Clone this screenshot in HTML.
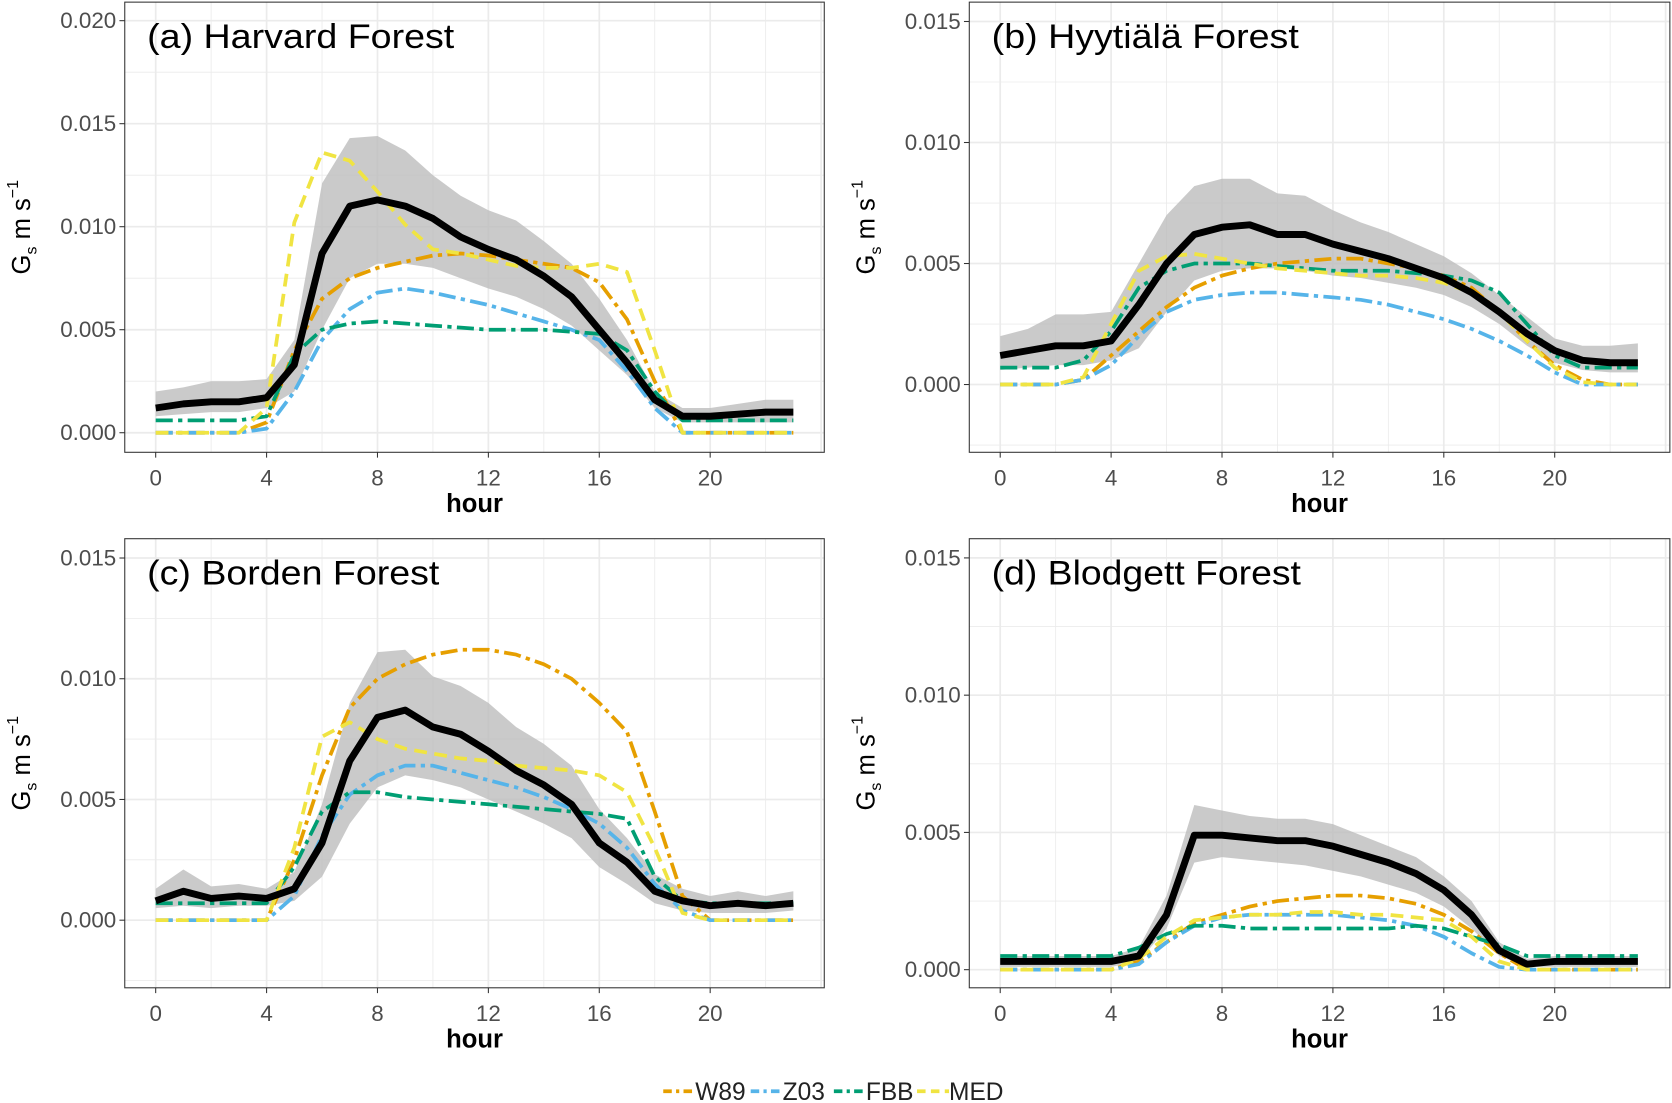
<!DOCTYPE html>
<html><head><meta charset="utf-8"><style>
html,body{margin:0;padding:0;background:#fff}
svg{display:block;font-family:"Liberation Sans",sans-serif}
</style></head><body>
<svg id="fig" width="1672" height="1103" viewBox="0 0 1568 1034" preserveAspectRatio="none" xmlns="http://www.w3.org/2000/svg"></svg>
<script>
const hours=[0,1,2,3,4,5,6,7,8,9,10,11,12,13,14,15,16,17,18,19,20,21,22,23];
const xTicks=[0,4,8,12,16,20];
const seriesNames=["W89","Z03","FBB","MED"];
const seriesColors=["#E69F00","#56B4E9","#009E73","#F0E442"];
const titles=["(a) Harvard Forest","(b) Hyytiälä Forest","(c) Borden Forest","(d) Blodgett Forest"];
const yTicksA=["0.000","0.005","0.010","0.015","0.020"];
const yTicksB=["0.000","0.005","0.010","0.015"];
// panel a
const obsA=[0.0012,0.0014,0.0015,0.0015,0.0017,0.0033,0.0087,0.0110,0.0113,0.0110,0.0104,0.0095,0.0089,0.0084,0.0076,0.0066,0.0050,0.0034,0.0016,0.0008,0.0008,0.0009,0.0010,0.0010];
const lowA=[0.0008,0.0009,0.0010,0.0010,0.0012,0.0020,0.0050,0.0075,0.0082,0.0082,0.0080,0.0075,0.0070,0.0066,0.0060,0.0052,0.0040,0.0028,0.0012,0.0005,0.0005,0.0005,0.0005,0.0005];
const highA=[0.0020,0.0022,0.0025,0.0025,0.0026,0.0045,0.0121,0.0143,0.0144,0.0137,0.0125,0.0115,0.0108,0.0103,0.0093,0.0082,0.0065,0.0045,0.0020,0.0012,0.0012,0.0014,0.0016,0.0016];
const w89A=[0,0,0,0,0.0005,0.0040,0.0065,0.0075,0.0080,0.0083,0.0086,0.0087,0.0086,0.0084,0.0082,0.0080,0.0073,0.0055,0.0025,0,0,0,0,0];
const z03A=[0,0,0,0,0.0002,0.0020,0.0045,0.0060,0.0068,0.0070,0.0068,0.0065,0.0062,0.0058,0.0054,0.0050,0.0045,0.0030,0.0012,0,0,0,0,0];
const fbbA=[0.0006,0.0006,0.0006,0.0006,0.0008,0.0038,0.0050,0.0053,0.0054,0.0053,0.0052,0.0051,0.0050,0.0050,0.0050,0.0049,0.0048,0.0040,0.0020,0.0006,0.0006,0.0006,0.0006,0.0006];
const medA=[0,0,0,0,0.0012,0.0102,0.0136,0.0132,0.0117,0.0101,0.0089,0.0087,0.0084,0.0081,0.0080,0.0080,0.0082,0.0078,0.0040,0,0,0,0,0];
// panel b
const obsB=[0.0012,0.0014,0.0016,0.0016,0.0018,0.0033,0.0050,0.0062,0.0065,0.0066,0.0062,0.0062,0.0058,0.0055,0.0052,0.0048,0.0044,0.0038,0.0030,0.0021,0.0014,0.0010,0.0009,0.0009];
const lowB=[0.0006,0.0007,0.0008,0.0008,0.0010,0.0015,0.0030,0.0043,0.0047,0.0048,0.0048,0.0047,0.0045,0.0044,0.0042,0.0040,0.0037,0.0032,0.0025,0.0016,0.0009,0.0006,0.0005,0.0005];
const highB=[0.0020,0.0023,0.0029,0.0029,0.0030,0.0050,0.0070,0.0082,0.0085,0.0085,0.0079,0.0078,0.0072,0.0067,0.0063,0.0058,0.0053,0.0046,0.0037,0.0028,0.0019,0.0016,0.0016,0.0017];
const w89B=[0,0,0,0.0002,0.0012,0.0022,0.0032,0.0040,0.0045,0.0048,0.0050,0.0051,0.0052,0.0052,0.0050,0.0048,0.0045,0.0040,0.0030,0.0018,0.0008,0.0002,0,0];
const z03B=[0,0,0,0.0002,0.0008,0.0020,0.0030,0.0035,0.0037,0.0038,0.0038,0.0037,0.0036,0.0035,0.0033,0.0030,0.0027,0.0023,0.0018,0.0012,0.0005,0,0,0];
const fbbB=[0.0007,0.0007,0.0007,0.0010,0.0022,0.0040,0.0047,0.0050,0.0050,0.0050,0.0049,0.0048,0.0047,0.0047,0.0047,0.0046,0.0045,0.0043,0.0038,0.0025,0.0012,0.0007,0.0007,0.0007];
const medB=[0,0,0,0.0003,0.0025,0.0047,0.0053,0.0054,0.0052,0.0050,0.0048,0.0047,0.0046,0.0045,0.0045,0.0044,0.0042,0.0038,0.0030,0.0018,0.0007,0.0001,0,0];
// panel c
const obsC=[0.0008,0.0012,0.0009,0.0010,0.0009,0.0013,0.0032,0.0066,0.0084,0.0087,0.0080,0.0077,0.0070,0.0062,0.0056,0.0048,0.0032,0.0024,0.0012,0.0008,0.0006,0.0007,0.0006,0.0007];
const lowC=[0.0005,0.0006,0.0005,0.0006,0.0006,0.0008,0.0018,0.0040,0.0055,0.0060,0.0058,0.0055,0.0050,0.0045,0.0040,0.0034,0.0022,0.0015,0.0007,0.0004,0.0003,0.0003,0.0003,0.0004];
const highC=[0.0013,0.0021,0.0014,0.0015,0.0013,0.0020,0.0048,0.0090,0.0111,0.0112,0.0101,0.0097,0.0090,0.0080,0.0073,0.0064,0.0046,0.0034,0.0019,0.0013,0.0010,0.0012,0.0010,0.0012];
const w89C=[0,0,0,0,0,0.0025,0.0060,0.0088,0.0100,0.0106,0.0110,0.0112,0.0112,0.0110,0.0106,0.0100,0.0090,0.0078,0.0045,0.0010,0,0,0,0];
const z03C=[0,0,0,0,0,0.0010,0.0035,0.0052,0.0060,0.0064,0.0064,0.0061,0.0058,0.0055,0.0051,0.0046,0.0040,0.0030,0.0015,0.0004,0,0,0,0];
const fbbC=[0.0007,0.0007,0.0007,0.0007,0.0007,0.0022,0.0045,0.0053,0.0053,0.0051,0.0050,0.0049,0.0048,0.0047,0.0046,0.0045,0.0044,0.0042,0.0018,0.0008,0.0007,0.0007,0.0007,0.0007];
const medC=[0,0,0,0,0,0.0030,0.0076,0.0082,0.0075,0.0071,0.0069,0.0067,0.0066,0.0064,0.0063,0.0062,0.0060,0.0053,0.0030,0.0003,0,0,0,0];
// panel d
const obsD=[0.0003,0.0003,0.0003,0.0003,0.0003,0.0005,0.0020,0.0049,0.0049,0.0048,0.0047,0.0047,0.0045,0.0042,0.0039,0.0035,0.0029,0.0020,0.0007,0.0002,0.0003,0.0003,0.0003,0.0003];
const lowD=[0.0001,0.0001,0.0001,0.0001,0.0001,0.0003,0.0015,0.0039,0.0041,0.0040,0.0039,0.0038,0.0036,0.0034,0.0031,0.0028,0.0023,0.0015,0.0005,0.0001,0.0001,0.0001,0.0001,0.0001];
const highD=[0.0005,0.0005,0.0005,0.0005,0.0005,0.0008,0.0027,0.0060,0.0058,0.0056,0.0055,0.0055,0.0053,0.0049,0.0045,0.0041,0.0034,0.0025,0.0010,0.0004,0.0005,0.0005,0.0005,0.0005];
const w89D=[0,0,0,0,0,0.0003,0.0010,0.0017,0.0020,0.0023,0.0025,0.0026,0.0027,0.0027,0.0026,0.0024,0.0020,0.0014,0.0006,0,0,0,0,0];
const z03D=[0,0,0,0,0,0.0002,0.0010,0.0016,0.0019,0.0020,0.0020,0.0020,0.0020,0.0019,0.0018,0.0016,0.0012,0.0006,0.0001,0,0,0,0,0];
const fbbD=[0.0005,0.0005,0.0005,0.0005,0.0005,0.0008,0.0013,0.0016,0.0016,0.0015,0.0015,0.0015,0.0015,0.0015,0.0015,0.0016,0.0015,0.0012,0.0009,0.0005,0.0005,0.0005,0.0005,0.0005];
const medD=[0,0,0,0,0,0.0004,0.0012,0.0018,0.0019,0.0020,0.0020,0.0021,0.0021,0.0020,0.0020,0.0019,0.0018,0.0012,0.0003,0,0,0,0,0];

const NS="http://www.w3.org/2000/svg";
const svg=document.getElementById('fig');
function mk(tag,attrs,parent){const e=document.createElementNS(NS,tag);for(const k in attrs)e.setAttribute(k,attrs[k]);(parent||svg).appendChild(e);return e;}

const panels=[
 {x0:117,x1:773,y0:2,y1:424,ymin:-0.00095,ymax:0.0209,ticks:yTicksA,obs:obsA,low:lowA,high:highA,mods:[w89A,z03A,fbbA,medA]},
 {x0:909,x1:1566,y0:2,y1:424,ymin:-0.0028,ymax:0.0158,ticks:yTicksB,obs:obsB,low:lowB,high:highB,mods:[w89B,z03B,fbbB,medB]},
 {x0:117,x1:773,y0:505,y1:926,ymin:-0.0028,ymax:0.0158,ticks:yTicksB,obs:obsC,low:lowC,high:highC,mods:[w89C,z03C,fbbC,medC]},
 {x0:909,x1:1566,y0:505,y1:926,ymin:-0.00066,ymax:0.0157,ticks:yTicksB,obs:obsD,low:lowD,high:highD,mods:[w89D,z03D,fbbD,medD]}
];
const dashes=["16 5 4 5","16 5 4 5","16 5 4 5","12 7"];

panels.forEach((p,i)=>{
  const g=mk('g',{});
  
  
  const xs=h=>p.x0+29+h*26;
  const ys=v=>p.y1-(v-p.ymin)/(p.ymax-p.ymin)*(p.y1-p.y0);
  for(let h=-2;h<=24;h+=2){const X=xs(h);if(X<=p.x0||X>=p.x1)continue;
    mk('line',{x1:X,x2:X,y1:p.y0,y2:p.y1,stroke:'#ebebeb','stroke-width':h%4===0?1.6:0.8},g);}
  for(let k=-1;k<=2*p.ticks.length;k++){const v=k*0.0025;const Y=ys(v);if(Y<=p.y0||Y>=p.y1)continue;
    mk('line',{x1:p.x0,x2:p.x1,y1:Y,y2:Y,stroke:'#ebebeb','stroke-width':k%2===0?1.6:0.8},g);}
  let d='';hours.forEach((h,j)=>{d+=(j?'L':'M')+xs(h)+','+ys(p.high[j]);});
  for(let j=hours.length-1;j>=0;j--)d+='L'+xs(hours[j])+','+ys(p.low[j]);
  const band=mk('path',{d:d+'Z',fill:'#bdbdbd','fill-opacity':0.8},g);
  
  
  p.mods.forEach((arr,m)=>{
    const pts=hours.map((h,j)=>xs(h)+','+ys(arr[j])).join(' ');
    const l=mk('polyline',{points:pts,fill:'none',stroke:seriesColors[m],'stroke-width':3.5,'stroke-dasharray':dashes[m],'stroke-linejoin':'round'},g);
    
    
  });
  const pts=hours.map((h,j)=>xs(h)+','+ys(p.obs[j])).join(' ');
  const ol=mk('polyline',{points:pts,fill:'none',stroke:'#000','stroke-width':6.5,'stroke-linejoin':'round'},g);
  
  
  mk('rect',{x:p.x0,y:p.y0,width:p.x1-p.x0,height:p.y1-p.y0,fill:'none',stroke:'#333','stroke-width':1},g);
  p.ticks.forEach((t,k)=>{const Y=ys(k*0.005);
    mk('line',{x1:p.x0-5,x2:p.x0,y1:Y,y2:Y,stroke:'#333','stroke-width':1},g);
    const tx=mk('text',{x:p.x0-8,y:Y+7,'text-anchor':'end','font-size':21,fill:'#4d4d4d'},g);tx.textContent=t;
    
    });
  xTicks.forEach(h=>{const X=xs(h);
    mk('line',{x1:X,x2:X,y1:p.y1,y2:p.y1+5,stroke:'#333','stroke-width':1},g);
    const tx=mk('text',{x:X,y:p.y1+31,'text-anchor':'middle','font-size':21,fill:'#4d4d4d'},g);tx.textContent=h;
    
    });
  const xt=mk('text',{x:(p.x0+p.x1)/2,y:p.y1+56,'text-anchor':'middle','font-size':24,'font-weight':'bold'},g);xt.textContent='hour';
  
  
  const yt=mk('text',{transform:`translate(${p.x0-89},${(p.y0+p.y1)/2}) rotate(-90)`,'text-anchor':'middle','font-size':24},g);
  yt.innerHTML='G<tspan font-size="15" dy="6">s</tspan><tspan dy="-6"> m s</tspan><tspan font-size="15" dy="-11">−1</tspan>';
  
  
  const tt=mk('text',{x:p.x0+21,y:p.y0+43,'font-size':32,textLength:i===1?288:(i===0?288:(i===2?274:290)),lengthAdjust:'spacingAndGlyphs'},g);tt.textContent=titles[i];
  
  
});
const lg=mk('g',{});


const lx=[622,704,782,860];
seriesNames.forEach((n,m)=>{
  const e=mk('g',{},lg);
  
  
  mk('line',{x1:lx[m],x2:lx[m]+30,y1:1023,y2:1023,stroke:seriesColors[m],'stroke-width':3.5,'stroke-dasharray':m===3?'8 5':'8 4 3 4'},e);
  const t=mk('text',{x:lx[m]+30,y:1031,'font-size':23,fill:'#222'},e);t.textContent=n;
});
</script>
</body></html>
